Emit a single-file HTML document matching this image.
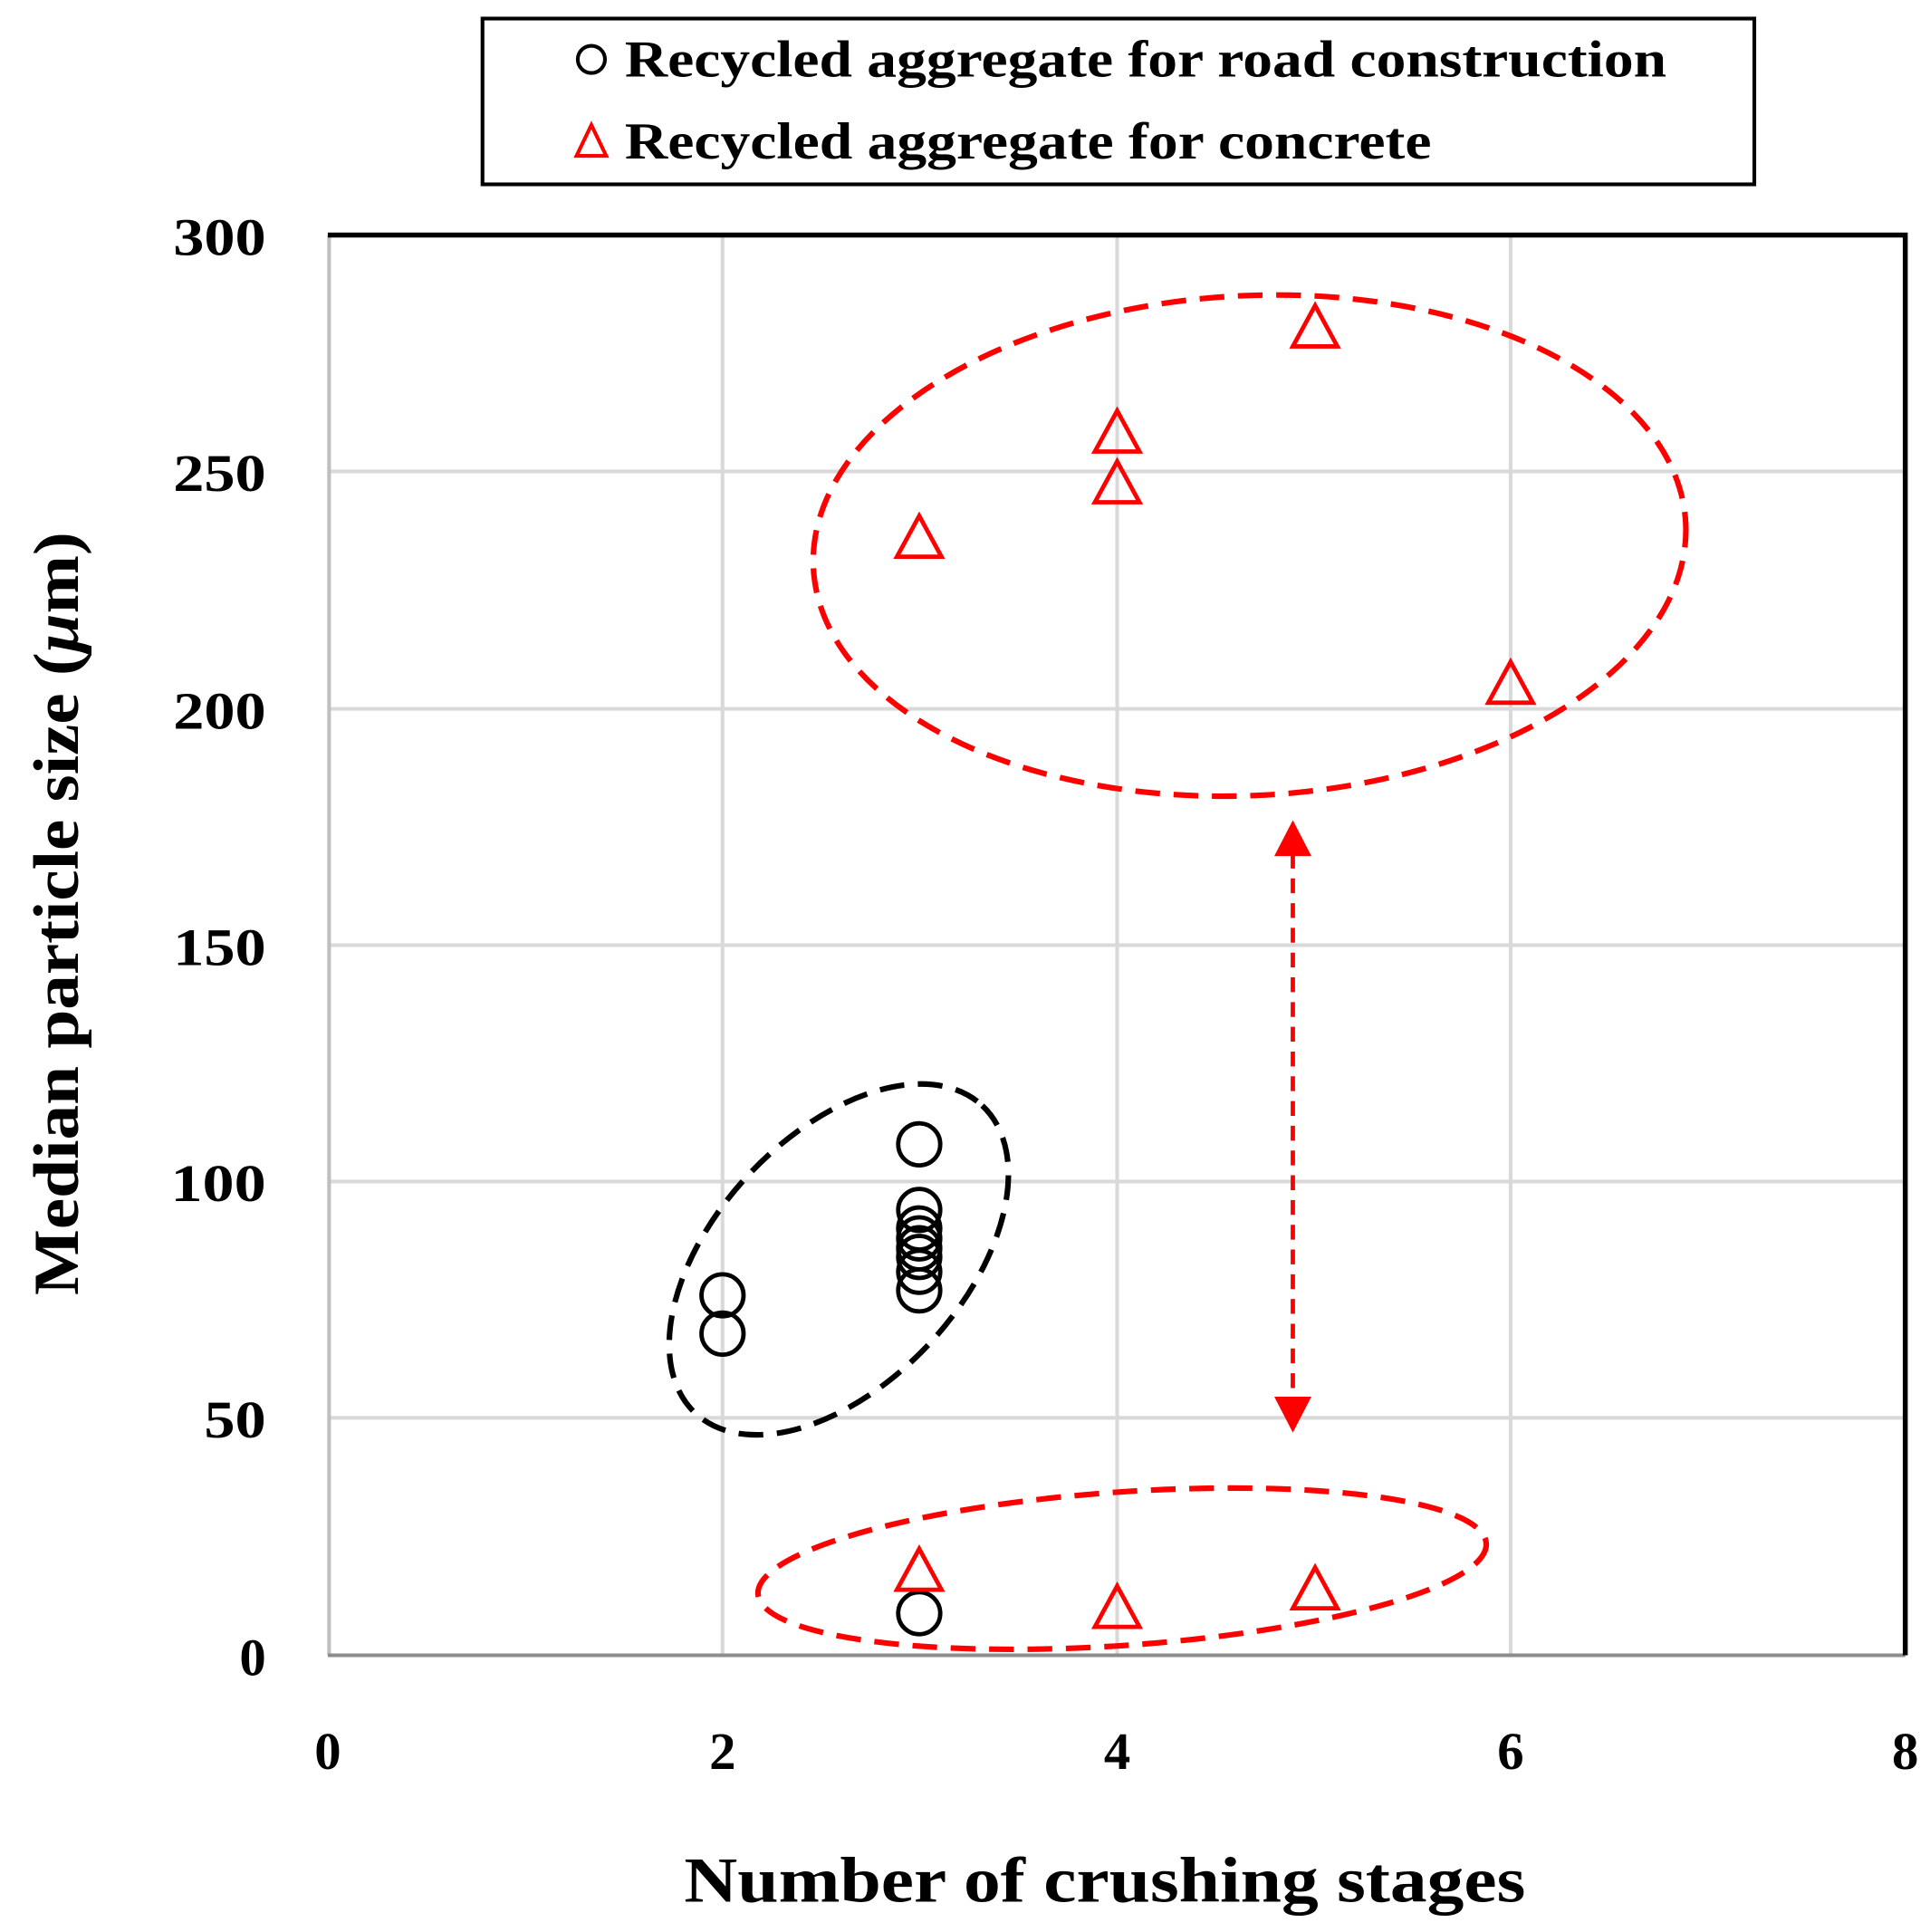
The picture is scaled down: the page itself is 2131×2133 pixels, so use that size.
<!DOCTYPE html>
<html><head><style>html,body{margin:0;padding:0;background:#fff}</style></head><body>
<svg width="2131" height="2128" viewBox="0 0 1560 1558" preserveAspectRatio="none" xmlns="http://www.w3.org/2000/svg" font-family="Liberation Serif, serif" font-weight="bold">
<rect x="0" y="0" width="1560" height="1558" fill="#fff"/>
<g stroke="#d9d9d9" stroke-width="3">
<line x1="584" y1="190" x2="584" y2="1338"/><line x1="903" y1="190" x2="903" y2="1338"/><line x1="1221" y1="190" x2="1221" y2="1338"/>
<line x1="265" y1="381" x2="1540" y2="381"/><line x1="265" y1="573" x2="1540" y2="573"/><line x1="265" y1="764" x2="1540" y2="764"/><line x1="265" y1="955" x2="1540" y2="955"/><line x1="265" y1="1146" x2="1540" y2="1146"/>
</g>
<line x1="266" y1="190" x2="266" y2="1338" stroke="#bfbfbf" stroke-width="3"/>
<line x1="265" y1="1338" x2="1540" y2="1338" stroke="#8c8c8c" stroke-width="3"/>
<path d="M265 190 H1540 V1338" fill="none" stroke="#000" stroke-width="4"/>
<g font-size="43" text-anchor="end">
<text x="215" y="206" textLength="75" lengthAdjust="spacingAndGlyphs">300</text><text x="215" y="397" textLength="75" lengthAdjust="spacingAndGlyphs">250</text><text x="215" y="589" textLength="75" lengthAdjust="spacingAndGlyphs">200</text><text x="215" y="780" textLength="75" lengthAdjust="spacingAndGlyphs">150</text><text x="215" y="971" textLength="77" lengthAdjust="spacingAndGlyphs">100</text><text x="215" y="1162" textLength="50" lengthAdjust="spacingAndGlyphs">50</text><text x="215" y="1354">0</text>
</g>
<g font-size="43" text-anchor="middle">
<text x="265" y="1430">0</text><text x="584" y="1430">2</text><text x="903" y="1430">4</text><text x="1221" y="1430">6</text><text x="1540" y="1430">8</text>
</g>
<text x="553" y="1537" font-size="52" textLength="680" lengthAdjust="spacingAndGlyphs">Number of crushing stages</text>
<text transform="translate(63,1047) rotate(-90)" font-size="52" textLength="617" lengthAdjust="spacingAndGlyphs">Median particle size (<tspan font-style="italic">μ</tspan>m)</text>
<rect x="390" y="15" width="1028" height="134" fill="#fff" stroke="#000" stroke-width="3"/>
<circle cx="478" cy="48" r="11" fill="none" stroke="#000" stroke-width="3"/>
<path d="M478 101 L490 126 L466 126 Z" fill="none" stroke="#f00" stroke-width="3"/>
<text x="505" y="62" font-size="42" textLength="842" lengthAdjust="spacingAndGlyphs">Recycled aggregate for road construction</text>
<text x="505" y="128" font-size="42" textLength="652" lengthAdjust="spacingAndGlyphs">Recycled aggregate for concrete</text>
<g fill="none" stroke-width="4.5" stroke-dasharray="20,11">
<ellipse cx="1010" cy="441" rx="353" ry="202" transform="rotate(-3 1010 441)" stroke="#f00"/>
<ellipse cx="907" cy="1268" rx="295" ry="62" transform="rotate(-4 907 1268)" stroke="#f00"/>
<ellipse cx="678" cy="1018" rx="170" ry="100" transform="rotate(-47 678 1018)" stroke="#000"/>
<line x1="1045" y1="690" x2="1045" y2="1130" stroke="#f00" stroke-width="3.5" stroke-dasharray="12,8"/>
</g>
<path d="M1045 663 L1060 692 L1030 692 Z M1045 1158 L1060 1129 L1030 1129 Z" fill="#f00"/>
<g fill="none" stroke="#000" stroke-width="3.5">
<circle cx="584" cy="1047" r="17"/><circle cx="584" cy="1078" r="17"/>
<circle cx="743" cy="925" r="17"/><circle cx="743" cy="978" r="17"/><circle cx="743" cy="993" r="17"/><circle cx="743" cy="1001" r="17"/><circle cx="743" cy="1009" r="17"/><circle cx="743" cy="1016" r="17"/><circle cx="743" cy="1028" r="17"/><circle cx="743" cy="1043" r="17"/><circle cx="743" cy="1304" r="17"/>
</g>
<g fill="none" stroke="#f00" stroke-width="3.5">
<path d="M743 417 l18 33 h-36 Z"/><path d="M903 332 l18 33 h-36 Z"/><path d="M903 373 l18 33 h-36 Z"/><path d="M1063 247 l18 33 h-36 Z"/><path d="M1221 535 l18 33 h-36 Z"/>
<path d="M743 1252 l18 33 h-36 Z"/><path d="M903 1282 l18 33 h-36 Z"/><path d="M1063 1267 l18 33 h-36 Z"/>
</g>
</svg>
</body></html>
